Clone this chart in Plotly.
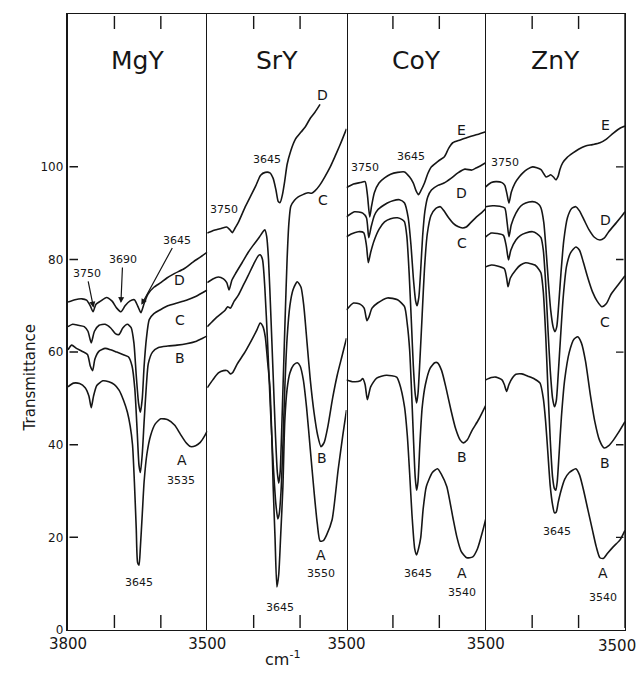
import plotly.graph_objects as go

# ---------------- data (wavenumber cm-1, transmittance) ----------------
PANELS = ["MgY", "SrY", "CoY", "ZnY"]
Y_TICKS = [0, 20, 40, 60, 80, 100]
Y_TICKS_RIGHT = [20, 40, 60, 80, 100]
X_LABEL_TICKS = [3800, 3500]
X_MARK_TICKS = [3700, 3600]

MGY_D = [(3800,70.8),(3785,71.3),(3770,71.5),(3760,71.2),(3752,70),(3746,68.7),(3740,70.3),(3730,71),(3717,71.8),(3705,71),(3695,69.5),(3686,68.7),(3677,70),(3667,71),(3657,71.3),(3650,70),(3643,68.5),(3636,70.5),(3628,72.5),(3615,74),(3600,75),(3587,76),(3570,77),(3550,78),(3530,79.5),(3515,80.5),(3500,81.6)]
MGY_C = [(3800,65.5),(3790,66),(3778,65.8),(3765,65.5),(3757,64.5),(3750,62),(3743,64.5),(3733,65.8),(3720,66),(3708,65.2),(3698,64),(3690,63.8),(3682,65.2),(3672,66),(3664,65.3),(3658,62),(3653,55),(3648,49),(3644,47),(3640,50),(3636,57),(3631,63),(3625,67),(3615,68.3),(3600,69.2),(3585,70),(3565,70.6),(3545,71.2),(3525,72),(3500,73.4)]
MGY_B = [(3800,60.5),(3792,61.5),(3782,60.8),(3770,60.2),(3758,59.5),(3752,57),(3747,56),(3742,58.5),(3733,60.2),(3720,60.8),(3708,60.5),(3695,60),(3682,59.5),(3670,59),(3662,57),(3656,52),(3651,43),(3647,35.5),(3644,34),(3640,38),(3636,45),(3631,53),(3627,57.5),(3618,60),(3605,61),(3585,61.3),(3565,61.5),(3545,61.8),(3525,62.3),(3510,63),(3500,63.5)]
MGY_A = [(3800,52.5),(3788,53.3),(3775,53.2),(3763,52.3),(3755,50.5),(3750,48),(3745,50.5),(3738,52.8),(3725,53.8),(3712,53.6),(3700,53),(3690,51.8),(3680,49.5),(3672,47),(3666,44),(3661,40),(3657,32),(3653,22),(3650,14.5),(3647,14),(3644,18),(3640,25),(3636,32),(3630,38),(3622,42),(3612,44.5),(3600,45.6),(3585,45.4),(3570,44.2),(3558,42.3),(3546,40.5),(3536,39.6),(3525,39.8),(3515,40.5),(3505,42),(3500,43)]

SRY_D = [(3800,85.7),(3785,86.3),(3770,86.7),(3758,87),(3752,86.5),(3746,85.8),(3740,86.8),(3733,88),(3718,91.4),(3705,94),(3695,96),(3685,98.2),(3675,98.8),(3665,98.7),(3658,97.5),(3652,95),(3647,92.5),(3643,92.3),(3638,94),(3633,97),(3628,100.5),(3620,103.5),(3610,106),(3598,107.5),(3589,108.6),(3578,110.5),(3568,111.8),(3557,113.5)]
SRY_C = [(3800,75),(3788,75.8),(3776,76.2),(3765,75.8),(3758,75),(3753,73.4),(3747,75.5),(3740,76.8),(3725,79.3),(3712,81.5),(3700,83.2),(3688,84.8),(3680,86),(3676,86.4),(3672,85),(3668,80),(3663,68),(3658,55),(3653,42),(3649,34),(3646,31.7),(3643,34),(3640,42),(3636,55),(3632,68),(3628,80),(3624,88),(3620,91.5),(3612,92.8),(3604,93.5),(3594,94),(3583,94.4),(3575,94.3),(3568,94.8),(3558,96),(3547,97.8),(3535,100),(3525,102.2),(3515,104.5),(3508,106.2),(3500,108.2)]
SRY_B = [(3800,65.5),(3790,66.5),(3780,67.5),(3770,68.3),(3762,69),(3756,69.8),(3750,69.5),(3742,71),(3733,72.3),(3722,74.5),(3712,76.5),(3700,79),(3690,80.8),(3686,81),(3681,80),(3676,74),(3670,62),(3664,48),(3658,36),(3652,27),(3648,24),(3645,25),(3641,30),(3637,40),(3633,52),(3628,63),(3622,70),(3615,73.5),(3606,75.2),(3598,74),(3592,70),(3585,62),(3578,54),(3570,47),(3562,42),(3555,39.6),(3548,40.5),(3540,44),(3530,50),(3520,55),(3510,59),(3500,63)]
SRY_A = [(3800,52.3),(3788,54),(3776,55.5),(3765,56),(3757,56),(3750,55.3),(3745,55.6),(3735,57.5),(3720,59.8),(3705,62.5),(3693,64.8),(3686,66.3),(3680,65.5),(3675,63.3),(3670,58),(3665,52.5),(3661,42),(3658,31),(3654,20),(3650,9.3),(3646,12),(3642,20),(3637,31),(3633,45),(3628,52),(3622,55.5),(3614,57.2),(3606,57.7),(3600,57),(3593,54),(3586,48),(3578,39),(3570,30),(3563,23),(3557,19.2),(3550,19.3),(3543,20.5),(3531,23.8),(3518,34.6),(3508,42),(3500,47.5)]

COY_E = [(3800,95.5),(3785,96.3),(3770,96.6),(3760,96.8),(3755,94),(3750,89.2),(3746,91.5),(3740,94.4),(3730,96.5),(3718,97.6),(3705,98.4),(3690,98.8),(3675,98.9),(3664,97.8),(3656,96.5),(3650,94.8),(3645,94),(3640,94.8),(3632,96.5),(3625,98.5),(3617,100),(3603,101.2),(3589,102.2),(3580,104),(3571,105.2),(3555,105.8),(3535,106.5),(3518,107),(3500,107.6)]
COY_D = [(3800,89.2),(3783,90.3),(3765,90),(3757,89),(3752,84.7),(3747,87),(3740,89.5),(3733,90.7),(3720,91.7),(3712,92.2),(3700,92.7),(3686,92.9),(3675,92.2),(3667,89),(3661,83),(3656,76),(3651,71),(3648,70),(3644,72),(3640,78),(3636,85),(3631,90.5),(3625,93.5),(3617,95),(3603,96),(3590,96.5),(3575,97.5),(3560,98.7),(3545,99.5),(3530,99.3),(3520,99.8),(3510,100.3),(3500,100.9)]
COY_C = [(3800,84.9),(3790,85.5),(3775,86),(3763,85.8),(3757,83),(3753,79.3),(3748,81.5),(3740,84.2),(3730,86.5),(3718,88.1),(3705,88.8),(3690,89),(3680,88.6),(3675,88.1),(3670,85),(3665,77),(3660,66),(3656,57),(3652,51),(3649,49),(3646,51),(3642,58),(3637,68),(3632,78),(3626,85.5),(3618,89.5),(3608,91),(3598,91.4),(3590,90.5),(3580,89),(3570,87.8),(3560,87.1),(3550,86.8),(3542,87),(3532,88),(3522,89),(3510,90),(3500,91)]
COY_B = [(3800,69.1),(3785,70.6),(3770,70.3),(3762,69.5),(3756,66.8),(3752,67.5),(3745,69.5),(3733,70.6),(3712,71.7),(3690,71.3),(3675,69.8),(3669,66),(3664,60.5),(3660,52),(3656,42),(3652,33),(3649,30.2),(3646,32),(3642,40),(3637,48),(3630,53),(3620,56.5),(3610,57.7),(3604,57.7),(3595,56),(3585,52),(3575,47.5),(3565,43.5),(3555,41),(3548,40.4),(3540,41),(3530,43),(3515,45.5),(3500,48.5)]
COY_A = [(3800,54),(3785,53.6),(3770,53.8),(3765,54.3),(3760,53),(3755,49.7),(3748,52.5),(3735,54.4),(3714,55),(3692,54.6),(3686,53.3),(3675,48.2),(3669,42),(3664,33.9),(3659,25),(3653,17.5),(3649,16.2),(3645,17.5),(3640,20),(3635,26),(3628,31),(3615,34),(3604,34.8),(3595,33.5),(3584,31),(3571,24.4),(3562,20),(3553,17),(3541,15.6),(3528,15.8),(3518,17.5),(3506,21.6),(3500,24)]

ZNY_E = [(3800,95.7),(3788,96.6),(3778,96.8),(3765,96.6),(3759,96),(3754,94),(3750,92.2),(3745,94.5),(3737,96.5),(3728,97.8),(3720,98.7),(3710,99.5),(3699,100),(3690,99.8),(3681,99.4),(3675,98.5),(3670,97.8),(3665,98),(3660,98.3),(3654,97.8),(3649,97.2),(3644,98),(3640,99.5),(3634,100.9),(3625,102),(3612,103),(3600,103.8),(3585,104.5),(3570,104.8),(3554,105.2),(3540,106),(3525,107.3),(3510,108.4),(3500,108.8)]
ZNY_D = [(3800,91.4),(3785,91.6),(3770,91.5),(3759,91.1),(3754,88),(3750,84.9),(3745,87.5),(3735,90),(3725,91.5),(3714,92.2),(3700,92.5),(3694,92.4),(3685,91.8),(3681,91.1),(3675,88),(3670,82),(3665,75),(3660,69),(3655,65.5),(3651,64.4),(3647,65.5),(3643,70),(3638,77),(3632,84),(3624,89),(3615,91),(3606,91.4),(3598,90.5),(3588,88.5),(3578,86.5),(3566,84.8),(3554,84.2),(3545,84.6),(3535,86),(3519,87.9),(3510,89),(3500,90.3)]
ZNY_C = [(3800,84.9),(3788,85.7),(3775,85.6),(3762,85.2),(3756,83),(3751,79.9),(3746,82),(3735,84.2),(3725,85.2),(3714,85.7),(3699,86),(3690,85.6),(3681,84.7),(3676,82),(3671,75),(3666,65),(3661,56),(3656,50),(3652,48.2),(3648,49.5),(3644,55),(3639,63),(3633,72),(3626,78.5),(3617,81.5),(3606,82.7),(3598,82),(3590,79.5),(3580,76),(3570,73),(3560,71),(3550,69.8),(3540,70.5),(3530,72.5),(3515,74.5),(3500,76.5)]
ZNY_B = [(3800,78.4),(3788,78.8),(3775,78.6),(3760,78),(3755,76),(3752,74.1),(3747,76),(3735,77.8),(3725,78.8),(3714,79.3),(3700,79),(3694,78.8),(3685,77.8),(3681,77.1),(3676,73),(3671,64),(3666,52),(3661,41),(3656,33),(3652,30.5),(3649,30.2),(3646,32),(3642,38),(3637,46),(3630,54),(3620,60),(3610,62.8),(3602,63.3),(3594,62),(3585,58),(3575,51),(3565,45),(3555,41),(3545,39.3),(3535,39.8),(3525,41),(3515,42.5),(3500,45)]
ZNY_A = [(3800,54),(3788,54.5),(3778,54.6),(3765,54),(3760,53),(3755,51.5),(3750,53),(3742,54.5),(3735,55.2),(3722,55.3),(3709,54.8),(3695,54.2),(3683,53.3),(3676,50),(3671,45),(3666,38),(3661,31),(3656,27),(3652,25.3),(3648,25.5),(3644,27.5),(3638,30),(3630,32.5),(3620,34),(3606,34.8),(3598,33.5),(3590,30.5),(3580,26),(3570,21.5),(3562,18),(3554,15.6),(3546,15.5),(3538,16.5),(3525,18),(3511,19.4),(3500,21.5)]

CURVES = {
    "MgY": [MGY_A, MGY_B, MGY_C, MGY_D],
    "SrY": [SRY_A, SRY_B, SRY_C, SRY_D],
    "CoY": [COY_A, COY_B, COY_C, COY_D, COY_E],
    "ZnY": [ZNY_A, ZNY_B, ZNY_C, ZNY_D, ZNY_E],
}

# text labels: (text, wavenumber, transmittance, font size)
LABELS = {
    "MgY": [("D",3559,75.6,14),("C",3559,67,14),("B",3559,58.7,14),("A",3555,36.7,14),
            ("3535",3557,32.3,11),("3645",3648,10.2,11)],
    "SrY": [("3750",3764,90.7,11),("3645",3671,101.5,11),("D",3551,115.5,14),("C",3551,92.9,14),
            ("B",3552,37.1,14),("A",3555,16.2,14),("3550",3555,12.1,11),("3645",3643,4.9,11)],
    "CoY": [("3750",3761,99.8,11),("3645",3660,102.2,11),("E",3552,108,14),("D",3552,94.4,14),
            ("C",3552,83.6,14),("B",3552,37.4,14),("3645",3647,12.3,11),("A",3552,12.3,14),
            ("3540",3552,8.0,11)],
    "ZnY": [("3750",3759,100.9,11),("E",3543,109,14),("D",3543,88.6,14),("C",3543,66.5,14),
            ("B",3543,36,14),("3645",3647,21.2,11),("A",3548,12.3,14),("3540",3548,7.0,11)],
}
# arrow labels in MgY: (text, text wn, text T, head wn, head T)
MGY_ARROWS = [("3750",3760,77.0,3745,69.6),("3690",3682,80.0,3686,70.6),("3645",3566,84.2,3642,70.2)]

INK = "#161616"
FONT = "DejaVu Sans"
Y_MAX = 133
PLOT_W, PLOT_H = 557, 616
PANEL_W = PLOT_W / 4
X_SPAN = 300.0
XT_LEN = 15 / PLOT_H * Y_MAX          # x tick length in data units
YT_LEN = 10 / PANEL_W * X_SPAN        # left y tick length in data units
YR_LEN = 9 / PANEL_W * X_SPAN         # right y tick length in data units

fig = go.Figure()
doms = [(0, 0.25), (0.25, 0.5), (0.5, 0.75), (0.75, 1.0)]


def seg(x0, x1, y0, y1, k, width=1.4):
    # a plain line segment drawn as an arrow-less annotation (tail -> head)
    fig.add_annotation(x=x1, y=y1, ax=x0, ay=y0, xref="x" + k, yref="y" + k,
                       axref="x" + k, ayref="y" + k, text=" ", showarrow=True,
                       arrowhead=0, arrowwidth=width, arrowcolor=INK, standoff=0,
                       startstandoff=0, font=dict(size=1, color="white"))


for i, panel in enumerate(PANELS):
    k = "" if i == 0 else str(i + 1)
    for pts in CURVES[panel]:
        fig.add_trace(go.Scatter(
            x=[p[0] for p in pts], y=[p[1] for p in pts],
            xaxis="x" + k, yaxis="y" + k, mode="lines",
            line=dict(color=INK, width=1.6, shape="spline", smoothing=0.6),
            showlegend=False, hoverinfo="skip"))

    # inward tick marks at 3700 and 3600 on bottom and top edges
    for tv in X_MARK_TICKS:
        seg(tv, tv, 0, XT_LEN, k)
        seg(tv, tv, Y_MAX, Y_MAX - XT_LEN, k)

    ticktext = ["3800" if i == 0 else " ", "3500" if i < 3 else " "]
    fig.layout["xaxis" + k] = dict(
        domain=doms[i], range=[3800, 3500], anchor="y" + k,
        tickmode="array", tickvals=X_LABEL_TICKS, ticktext=ticktext, ticks="",
        showline=True, linecolor=INK, linewidth=1.3, mirror=True,
        showgrid=False, zeroline=False,
        tickfont=dict(family=FONT, size=15, color=INK))
    ya = dict(domain=[0, 1], range=[0, Y_MAX], anchor="x" + k, showgrid=False,
              zeroline=False, linecolor=INK, linewidth=1.3, ticks="")
    if i == 0:
        ya.update(tickmode="array", tickvals=Y_TICKS, linewidth=2.4, showline=True,
                  mirror=False, tickfont=dict(family=FONT, size=12, color=INK))
    elif i == 1:
        ya.update(showline=True, mirror=True, showticklabels=False)
    elif i == 2:
        ya.update(showline=False, showticklabels=False)
    else:
        ya.update(showline=True, mirror=True, showticklabels=False)
    fig.layout["yaxis" + k] = ya

    # panel title
    fig.add_annotation(x=3650, y=123, xref="x" + k, yref="y" + k, text=panel,
                       showarrow=False, font=dict(family=FONT, size=25, color=INK))
    for txt, wn, t, sz in LABELS[panel]:
        fig.add_annotation(x=wn, y=t, xref="x" + k, yref="y" + k, text=txt,
                           showarrow=False, font=dict(family=FONT, size=sz, color=INK))

# inward y ticks on the left edge of the first panel
for tv in Y_TICKS[1:]:
    seg(3800, 3800 - YT_LEN, tv, tv, "", width=1.5)
# right edge of the last panel: border line plus inward ticks
seg(3500, 3500, 0, Y_MAX, "4", width=1.4)
for tv in Y_TICKS_RIGHT:
    seg(3500, 3500 + YR_LEN, tv, tv, "4")

# last bottom label, pulled slightly inside like the original
fig.add_annotation(x=3500, y=0, xref="x4", yref="y4", text="3500", showarrow=False,
                   xanchor="center", yanchor="top", xshift=-8, yshift=-5,
                   font=dict(family=FONT, size=15, color=INK))

for txt, tx, ty, hx, hy in MGY_ARROWS:
    fig.add_annotation(x=hx, y=hy, xref="x", yref="y", ax=tx, ay=ty, axref="x", ayref="y",
                       text=txt, showarrow=True, arrowhead=2, arrowsize=1, arrowwidth=1.2,
                       arrowcolor=INK, standoff=0,
                       font=dict(family=FONT, size=11, color=INK))

# axis titles
fig.add_annotation(x=-0.088, y=0.41, xref="paper", yref="paper", text="Transmittance",
                   textangle=-90, showarrow=False, font=dict(family=FONT, size=15, color=INK))
fig.add_annotation(x=0.386, y=-0.066, xref="paper", yref="paper", text="cm<sup>-1</sup>",
                   showarrow=False, font=dict(family=FONT, size=16, color=INK))

fig.update_layout(template="none", width=641, height=681,
                  margin=dict(l=68, r=16, t=14, b=51),
                  paper_bgcolor="white", plot_bgcolor="white")
fig.write_html("out.html")
